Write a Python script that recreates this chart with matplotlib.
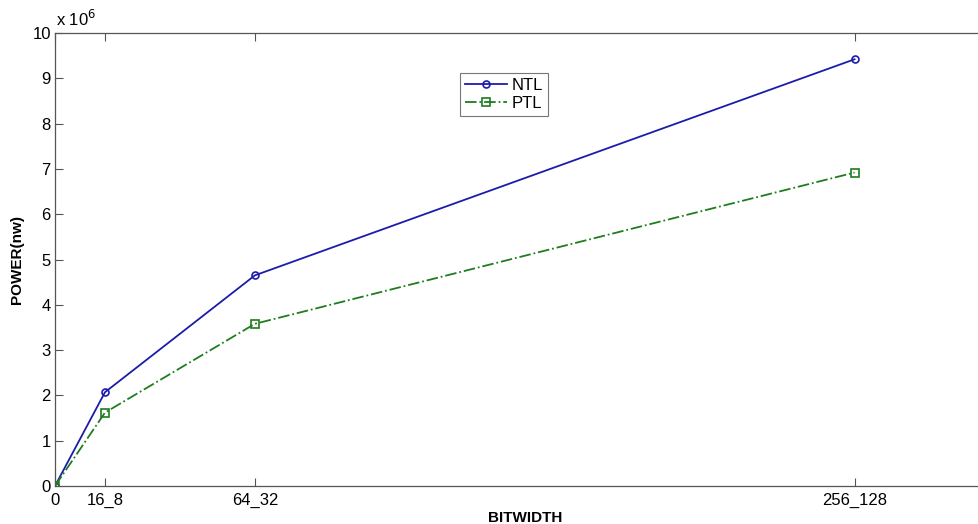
import matplotlib
matplotlib.use("Agg")
import matplotlib.pyplot as plt

plt.rcParams['font.family'] = ['Liberation Sans', 'DejaVu Sans']

x_pos = [0, 16, 64, 256]
x_labels = ['0', '16_8', '64_32', '256_128']
ntl = [0.0, 2.07, 4.65, 9.42]
ptl = [0.0, 1.62, 3.58, 6.92]
scale = 1e6

W, H = 979, 524
fig = plt.figure(figsize=(W / 100, H / 100), dpi=100)
left, right, top, bottom = 55, 995, 33, 486
ax = fig.add_axes([left / W, 1 - bottom / H, (right - left) / W, (bottom - top) / H])

ax.plot(x_pos, [v * scale for v in ntl], '-', color='#1c1caa', lw=1.3,
        marker='o', ms=5, mfc='none', mec='#1c1caa', mew=1.2, label='NTL')
ax.plot(x_pos, [v * scale for v in ptl], '-.', color='#1e7d1e', lw=1.3,
        marker='s', ms=6, mfc='none', mec='#1e7d1e', mew=1.2, label='PTL')

ax.set_xlim(0, 300.96)
ax.set_ylim(0, 10 * scale)
ax.set_xticks(x_pos)
ax.set_xticklabels(x_labels)
ax.set_yticks([i * scale for i in range(11)])
ax.set_yticklabels([str(i) for i in range(11)])
ax.tick_params(direction='in', length=6, width=0.8, colors='#555555',
               labelcolor='black', labelsize=12, top=True, right=False, pad=3)
ax.tick_params(axis='x', pad=5)
for s in ax.spines.values():
    s.set_color('#555555')
    s.set_linewidth(0.9)
ax.spines['right'].set_visible(False)

ax.set_xlabel('BITWIDTH', fontsize=11, fontweight='bold', labelpad=2)
ax.set_ylabel('POWER(nw)', fontsize=11, fontweight='bold', labelpad=6)

fig.text(left / W + 0.001, 1 - 29 / H, r'x 10$^{6}$', fontsize=12, va='bottom', ha='left')

leg = ax.legend(loc='upper left', bbox_to_anchor=(460 / W, 1 - 73 / H),
                bbox_transform=fig.transFigure, fontsize=12, frameon=True,
                fancybox=False, borderpad=0.3, handlelength=2.5, handletextpad=0.3,
                labelspacing=0.15, borderaxespad=0)
leg.get_frame().set_edgecolor('#555555')
leg.get_frame().set_linewidth(0.8)

fig.savefig('out.png', dpi=100)
